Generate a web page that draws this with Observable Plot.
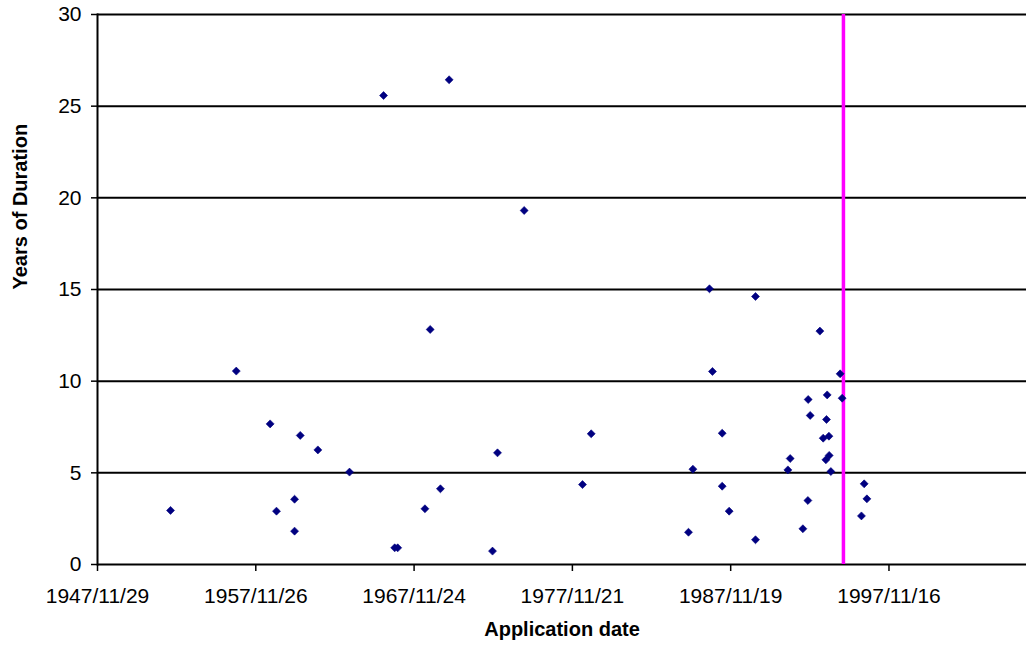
<!DOCTYPE html>
<html>
<head>
<meta charset="utf-8">
<script src="https://cdn.jsdelivr.net/npm/d3@7"></script>
<script src="https://cdn.jsdelivr.net/npm/@observablehq/plot@0.6"></script>
<style>
  html, body { margin: 0; padding: 0; background: #fff; overflow: hidden; }
</style>
</head>
<body>
<div id="chart"></div>
<script>
// Application date of each case and how many years it lasted
const applicationDates = [
  "1952-07-09", "1956-09-02", "1958-10-23", "1959-03-18", "1960-09-16",
  "1960-05-08", "1960-05-08", "1961-10-27", "1963-10-27", "1965-12-20",
  "1966-09-03", "1966-11-11", "1968-07-31", "1968-11-29", "1969-07-23",
  "1970-02-09", "1972-11-05", "1973-02-28", "1974-11-05", "1978-07-12",
  "1979-01-29", "1985-03-21", "1985-07-01", "1986-07-18", "1986-09-25",
  "1987-05-07", "1987-05-07", "1987-10-15", "1989-06-13", "1989-06-13",
  "1991-06-30", "1991-08-22", "1992-06-10", "1992-10-03", "1992-10-10",
  "1992-11-25", "1993-07-07", "1993-09-21", "1993-11-22", "1993-12-06",
  "1993-12-22", "1994-01-31", "1994-02-06", "1994-03-17", "1994-10-17",
  "1994-12-02", "1996-02-20", "1996-04-23", "1996-06-25"
];
const yearsOfDuration = [
  2.95, 10.55, 7.67, 2.91, 7.04,
  3.56, 1.82, 6.25, 5.04, 25.58,
  0.91, 0.91, 3.04, 12.82, 4.13,
  26.44, 0.73, 6.09, 19.31, 4.36,
  7.13, 1.76, 5.2, 15.04, 10.53,
  7.16, 4.27, 2.91, 14.62, 1.35,
  5.16, 5.78, 1.95, 3.49, 9.0,
  8.13, 12.73, 6.89, 5.71, 7.91,
  9.25, 7.0, 5.95, 5.07, 10.4,
  9.07, 2.65, 4.4, 3.58
];

// Axis ticks and extent
const xTickLabels = ["1947/11/29", "1957/11/26", "1967/11/24", "1977/11/21", "1987/11/19", "1997/11/16"];
const yTicks = [0, 5, 10, 15, 20, 25, 30];
const xDomain = ["1947-11-29", "2006-07-23"];
const yDomain = [0, 30];

// Reference date marked by the vertical line
const cutoffDate = ["1995-01-01"];

const parseIso = d3.utcParse("%Y-%m-%d");
const parseLabel = d3.utcParse("%Y/%m/%d");
const formatLabel = d3.utcFormat("%Y/%m/%d");

const cases = applicationDates.map((d, i) => ({date: parseIso(d), years: yearsOfDuration[i]}));
const xTicks = xTickLabels.map(parseLabel);

const chart = Plot.plot({
  width: 1026,
  height: 651,
  marginLeft: 97,
  marginRight: 0,
  marginTop: 14,
  marginBottom: 87,
  style: {
    fontFamily: "'Liberation Sans', Arial, sans-serif",
    fontSize: "21px",
    color: "#000",
    background: "#fff"
  },
  x: {type: "utc", domain: xDomain.map(parseIso), nice: false},
  y: {domain: yDomain, nice: false},
  marks: [
    Plot.gridY(yTicks, {stroke: "#000", strokeOpacity: 1, strokeWidth: 2}),
    Plot.frame({anchor: "left", stroke: "#000", strokeWidth: 2}),
    Plot.axisY(yTicks, {tickSize: 6, tickPadding: 10, strokeWidth: 1.5, label: null}),
    Plot.axisX(xTicks, {tickSize: 7, tickPadding: 17, strokeWidth: 1.5, tickFormat: formatLabel, label: null}),
    Plot.ruleX(cutoffDate.map(parseIso), {stroke: "#ff00ff", strokeWidth: 3.5}),
    Plot.dot(cases, {x: "date", y: "years", symbol: "diamond2", r: 3.6, fill: "#000080", stroke: "#000080", strokeWidth: 0.6}),
    Plot.text(["Application date"], {frameAnchor: "bottom", dy: 71, fontSize: 20, fontWeight: "bold"}),
    Plot.text(["Years of Duration"], {frameAnchor: "left", dx: -77, rotate: -90, fontSize: 20, fontWeight: "bold"})
  ]
});

document.getElementById("chart").appendChild(chart);
</script>
</body>
</html>
